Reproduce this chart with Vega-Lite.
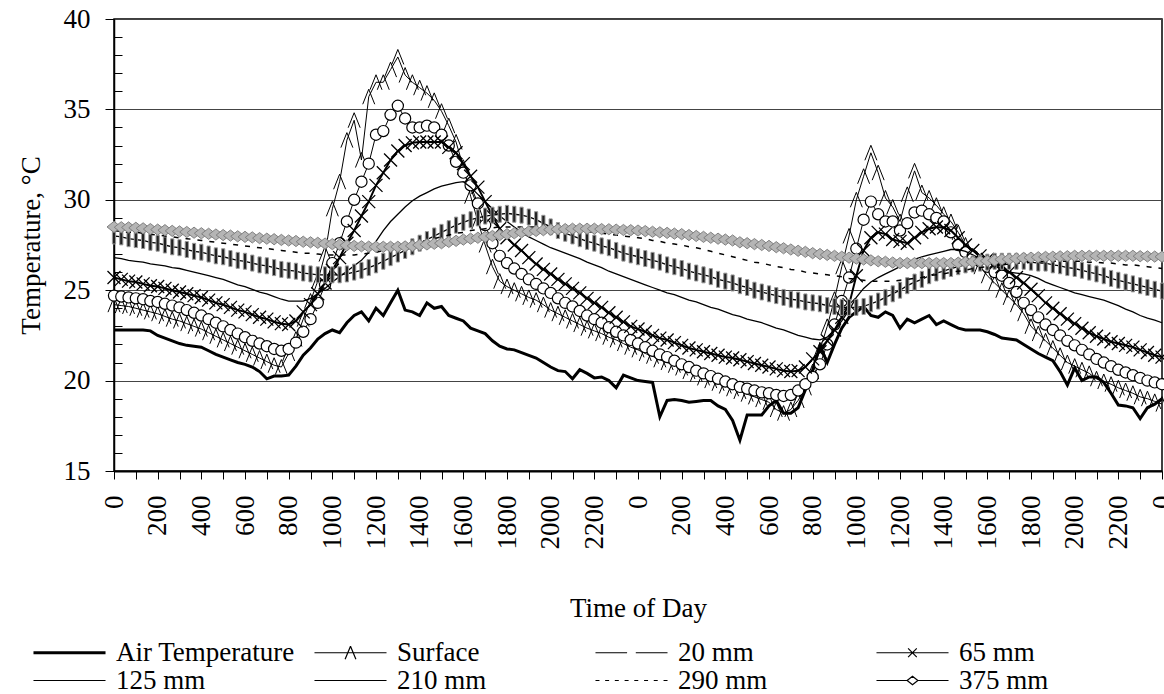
{
"$schema": "https://vega.github.io/schema/vega-lite/v6.json",
"width": 1048, "height": 452,
"autosize": {"type": "none"},
"padding": {"left": 114, "top": 19, "right": 2, "bottom": 223},
"background": "white",
"config": {
  "font": "Liberation Serif",
  "view": {"stroke": "black", "strokeWidth": 1.5},
  "axis": {"labelFont": "Liberation Serif", "titleFont": "Liberation Serif", "labelColor": "black", "titleColor": "black", "labelFontSize": 27, "titleFontSize": 27, "titleFontWeight": "normal", "tickColor": "black", "domainColor": "black"}
},
"data": {"values": [
{"m":0,"air":22.8,"surf":24.2,"d20":24.7,"d65":25.7,"d125":26.8,"d210":28.0,"d290":28.3,"d375":28.5},
{"m":20,"air":22.8,"surf":24.15,"d20":24.65,"d65":25.6,"d125":26.75,"d210":27.95,"d290":28.25,"d375":28.48},
{"m":40,"air":22.8,"surf":24.1,"d20":24.6,"d65":25.5,"d125":26.65,"d210":27.85,"d290":28.2,"d375":28.47},
{"m":60,"air":22.8,"surf":24.0,"d20":24.55,"d65":25.45,"d125":26.6,"d210":27.8,"d290":28.2,"d375":28.45},
{"m":80,"air":22.8,"surf":23.9,"d20":24.5,"d65":25.35,"d125":26.55,"d210":27.75,"d290":28.15,"d375":28.42},
{"m":100,"air":22.75,"surf":23.8,"d20":24.4,"d65":25.25,"d125":26.45,"d210":27.65,"d290":28.1,"d375":28.38},
{"m":120,"air":22.5,"surf":23.7,"d20":24.35,"d65":25.2,"d125":26.4,"d210":27.6,"d290":28.05,"d375":28.35},
{"m":140,"air":22.35,"surf":23.55,"d20":24.25,"d65":25.1,"d125":26.35,"d210":27.5,"d290":28.0,"d375":28.32},
{"m":160,"air":22.2,"surf":23.4,"d20":24.15,"d65":25.0,"d125":26.25,"d210":27.4,"d290":27.95,"d375":28.28},
{"m":180,"air":22.05,"surf":23.3,"d20":24.05,"d65":24.9,"d125":26.2,"d210":27.35,"d290":27.9,"d375":28.25},
{"m":200,"air":21.95,"surf":23.15,"d20":23.9,"d65":24.8,"d125":26.1,"d210":27.25,"d290":27.85,"d375":28.22},
{"m":220,"air":21.9,"surf":23.0,"d20":23.75,"d65":24.7,"d125":26.0,"d210":27.15,"d290":27.8,"d375":28.18},
{"m":240,"air":21.85,"surf":22.85,"d20":23.6,"d65":24.6,"d125":25.9,"d210":27.1,"d290":27.75,"d375":28.15},
{"m":260,"air":21.65,"surf":22.65,"d20":23.4,"d65":24.45,"d125":25.8,"d210":27.0,"d290":27.7,"d375":28.12},
{"m":280,"air":21.45,"surf":22.45,"d20":23.2,"d65":24.3,"d125":25.7,"d210":26.9,"d290":27.65,"d375":28.08},
{"m":300,"air":21.3,"surf":22.25,"d20":23.0,"d65":24.2,"d125":25.6,"d210":26.85,"d290":27.6,"d375":28.05},
{"m":320,"air":21.15,"surf":22.05,"d20":22.8,"d65":24.05,"d125":25.45,"d210":26.75,"d290":27.55,"d375":28.02},
{"m":340,"air":21.0,"surf":21.85,"d20":22.6,"d65":23.9,"d125":25.3,"d210":26.65,"d290":27.5,"d375":27.98},
{"m":360,"air":20.9,"surf":21.65,"d20":22.4,"d65":23.8,"d125":25.2,"d210":26.6,"d290":27.45,"d375":27.95},
{"m":380,"air":20.75,"surf":21.45,"d20":22.2,"d65":23.65,"d125":25.05,"d210":26.5,"d290":27.4,"d375":27.92},
{"m":400,"air":20.5,"surf":21.25,"d20":22.05,"d65":23.5,"d125":24.9,"d210":26.4,"d290":27.35,"d375":27.88},
{"m":420,"air":20.1,"surf":21.05,"d20":21.9,"d65":23.4,"d125":24.8,"d210":26.35,"d290":27.3,"d375":27.85},
{"m":440,"air":20.25,"surf":20.85,"d20":21.75,"d65":23.25,"d125":24.65,"d210":26.25,"d290":27.25,"d375":27.82},
{"m":460,"air":20.25,"surf":20.75,"d20":21.65,"d65":23.15,"d125":24.5,"d210":26.15,"d290":27.2,"d375":27.78},
{"m":480,"air":20.3,"surf":21.5,"d20":21.75,"d65":23.1,"d125":24.4,"d210":26.1,"d290":27.15,"d375":27.75},
{"m":500,"air":20.8,"surf":22.3,"d20":22.1,"d65":23.3,"d125":24.4,"d210":26.05,"d290":27.1,"d375":27.72},
{"m":520,"air":21.4,"surf":23.4,"d20":22.7,"d65":23.8,"d125":24.4,"d210":25.95,"d290":27.05,"d375":27.68},
{"m":540,"air":21.8,"surf":24.4,"d20":23.4,"d65":24.2,"d125":24.55,"d210":25.9,"d290":27.05,"d375":27.65},
{"m":560,"air":22.3,"surf":25.5,"d20":24.3,"d65":24.8,"d125":24.8,"d210":25.85,"d290":27.0,"d375":27.62},
{"m":580,"air":22.6,"surf":27.0,"d20":25.3,"d65":25.4,"d125":25.1,"d210":25.85,"d290":26.95,"d375":27.58},
{"m":600,"air":22.8,"surf":29.5,"d20":26.5,"d65":26.1,"d125":25.45,"d210":25.85,"d290":26.95,"d375":27.55},
{"m":620,"air":22.65,"surf":31.0,"d20":27.6,"d65":26.8,"d125":25.75,"d210":25.85,"d290":26.95,"d375":27.52},
{"m":640,"air":23.2,"surf":33.3,"d20":28.8,"d65":27.6,"d125":26.05,"d210":25.9,"d290":26.95,"d375":27.48},
{"m":660,"air":23.6,"surf":34.4,"d20":30.0,"d65":28.3,"d125":26.35,"d210":26.0,"d290":26.95,"d375":27.45},
{"m":680,"air":23.8,"surf":32.2,"d20":31.0,"d65":29.1,"d125":26.65,"d210":26.1,"d290":27.0,"d375":27.43},
{"m":700,"air":23.3,"surf":35.7,"d20":32.0,"d65":29.9,"d125":27.1,"d210":26.25,"d290":27.05,"d375":27.41},
{"m":720,"air":24.0,"surf":36.5,"d20":33.6,"d65":30.8,"d125":27.7,"d210":26.4,"d290":27.1,"d375":27.4},
{"m":740,"air":23.6,"surf":36.5,"d20":33.8,"d65":31.5,"d125":28.3,"d210":26.6,"d290":27.2,"d375":27.4},
{"m":760,"air":24.3,"surf":37.2,"d20":34.7,"d65":32.2,"d125":28.8,"d210":26.8,"d290":27.25,"d375":27.4},
{"m":780,"air":25.0,"surf":37.9,"d20":35.2,"d65":32.7,"d125":29.2,"d210":27.0,"d290":27.35,"d375":27.4},
{"m":800,"air":23.9,"surf":36.9,"d20":34.5,"d65":33.0,"d125":29.6,"d210":27.2,"d290":27.45,"d375":27.42},
{"m":820,"air":23.8,"surf":36.5,"d20":34.0,"d65":33.15,"d125":29.95,"d210":27.4,"d290":27.55,"d375":27.45},
{"m":840,"air":23.6,"surf":36.2,"d20":34.0,"d65":33.2,"d125":30.2,"d210":27.6,"d290":27.65,"d375":27.5},
{"m":860,"air":24.3,"surf":35.9,"d20":34.1,"d65":33.2,"d125":30.4,"d210":27.8,"d290":27.75,"d375":27.53},
{"m":880,"air":24.0,"surf":35.5,"d20":34.0,"d65":33.2,"d125":30.6,"d210":28.0,"d290":27.85,"d375":27.57},
{"m":900,"air":24.1,"surf":34.9,"d20":33.6,"d65":33.2,"d125":30.75,"d210":28.2,"d290":27.95,"d375":27.6},
{"m":920,"air":23.6,"surf":34.1,"d20":33.0,"d65":32.9,"d125":30.85,"d210":28.4,"d290":28.05,"d375":27.67},
{"m":940,"air":23.45,"surf":33.2,"d20":32.1,"d65":32.6,"d125":30.95,"d210":28.6,"d290":28.15,"d375":27.73},
{"m":960,"air":23.3,"surf":31.8,"d20":31.5,"d65":32.0,"d125":31.0,"d210":28.75,"d290":28.2,"d375":27.8},
{"m":980,"air":22.9,"surf":30.2,"d20":30.8,"d65":31.3,"d125":30.7,"d210":28.9,"d290":28.3,"d375":27.85},
{"m":1000,"air":22.75,"surf":28.8,"d20":29.8,"d65":30.7,"d125":30.3,"d210":29.0,"d290":28.35,"d375":27.9},
{"m":1020,"air":22.6,"surf":27.5,"d20":28.6,"d65":29.9,"d125":29.9,"d210":29.1,"d290":28.4,"d375":27.95},
{"m":1040,"air":22.2,"surf":26.3,"d20":27.6,"d65":29.1,"d125":29.5,"d210":29.15,"d290":28.45,"d375":28.0},
{"m":1060,"air":21.9,"surf":25.5,"d20":26.9,"d65":28.4,"d125":29.1,"d210":29.2,"d290":28.5,"d375":28.05},
{"m":1080,"air":21.75,"surf":25.2,"d20":26.5,"d65":27.9,"d125":28.8,"d210":29.25,"d290":28.5,"d375":28.1},
{"m":1100,"air":21.7,"surf":25.0,"d20":26.2,"d65":27.5,"d125":28.5,"d210":29.2,"d290":28.5,"d375":28.15},
{"m":1120,"air":21.55,"surf":24.8,"d20":25.9,"d65":27.2,"d125":28.2,"d210":29.15,"d290":28.5,"d375":28.2},
{"m":1140,"air":21.4,"surf":24.6,"d20":25.6,"d65":26.8,"d125":27.95,"d210":29.05,"d290":28.5,"d375":28.25},
{"m":1160,"air":21.25,"surf":24.45,"d20":25.35,"d65":26.45,"d125":27.75,"d210":28.9,"d290":28.5,"d375":28.28},
{"m":1180,"air":21.0,"surf":24.2,"d20":25.1,"d65":26.15,"d125":27.55,"d210":28.7,"d290":28.45,"d375":28.32},
{"m":1200,"air":20.75,"surf":23.9,"d20":24.85,"d65":25.9,"d125":27.35,"d210":28.5,"d290":28.45,"d375":28.35},
{"m":1220,"air":20.55,"surf":23.7,"d20":24.55,"d65":25.6,"d125":27.2,"d210":28.3,"d290":28.4,"d375":28.37},
{"m":1240,"air":20.5,"surf":23.5,"d20":24.3,"d65":25.35,"d125":27.05,"d210":28.15,"d290":28.4,"d375":28.38},
{"m":1260,"air":20.1,"surf":23.3,"d20":24.1,"d65":25.1,"d125":26.9,"d210":28.0,"d290":28.35,"d375":28.4},
{"m":1280,"air":20.6,"surf":23.1,"d20":23.85,"d65":24.85,"d125":26.75,"d210":27.85,"d290":28.3,"d375":28.4},
{"m":1300,"air":20.4,"surf":22.9,"d20":23.6,"d65":24.55,"d125":26.55,"d210":27.7,"d290":28.25,"d375":28.4},
{"m":1320,"air":20.15,"surf":22.75,"d20":23.4,"d65":24.3,"d125":26.4,"d210":27.6,"d290":28.2,"d375":28.4},
{"m":1340,"air":20.2,"surf":22.6,"d20":23.2,"d65":24.05,"d125":26.25,"d210":27.45,"d290":28.15,"d375":28.38},
{"m":1360,"air":20.0,"surf":22.4,"d20":22.95,"d65":23.75,"d125":26.05,"d210":27.35,"d290":28.1,"d375":28.37},
{"m":1380,"air":19.6,"surf":22.25,"d20":22.7,"d65":23.5,"d125":25.9,"d210":27.2,"d290":28.05,"d375":28.35},
{"m":1400,"air":20.3,"surf":22.05,"d20":22.5,"d65":23.25,"d125":25.75,"d210":27.05,"d290":28.0,"d375":28.33},
{"m":1420,"air":20.15,"surf":21.85,"d20":22.25,"d65":23.0,"d125":25.6,"d210":26.95,"d290":27.95,"d375":28.32},
{"m":1440,"air":20.0,"surf":21.7,"d20":22.05,"d65":22.85,"d125":25.45,"d210":26.85,"d290":27.9,"d375":28.3},
{"m":1460,"air":19.95,"surf":21.5,"d20":21.85,"d65":22.7,"d125":25.3,"d210":26.75,"d290":27.85,"d375":28.27},
{"m":1480,"air":19.9,"surf":21.35,"d20":21.65,"d65":22.5,"d125":25.15,"d210":26.65,"d290":27.75,"d375":28.23},
{"m":1500,"air":18.0,"surf":21.15,"d20":21.45,"d65":22.35,"d125":25.0,"d210":26.55,"d290":27.7,"d375":28.2},
{"m":1520,"air":18.9,"surf":21.0,"d20":21.3,"d65":22.25,"d125":24.85,"d210":26.4,"d290":27.6,"d375":28.17},
{"m":1540,"air":18.95,"surf":20.85,"d20":21.1,"d65":22.1,"d125":24.75,"d210":26.3,"d290":27.55,"d375":28.13},
{"m":1560,"air":18.9,"surf":20.7,"d20":20.9,"d65":21.95,"d125":24.6,"d210":26.2,"d290":27.5,"d375":28.1},
{"m":1580,"air":18.8,"surf":20.5,"d20":20.75,"d65":21.8,"d125":24.45,"d210":26.05,"d290":27.4,"d375":28.05},
{"m":1600,"air":18.85,"surf":20.35,"d20":20.55,"d65":21.7,"d125":24.35,"d210":25.95,"d290":27.35,"d375":28.0},
{"m":1620,"air":18.9,"surf":20.15,"d20":20.4,"d65":21.6,"d125":24.2,"d210":25.85,"d290":27.25,"d375":27.95},
{"m":1640,"air":18.9,"surf":20.0,"d20":20.25,"d65":21.5,"d125":24.05,"d210":25.75,"d290":27.15,"d375":27.9},
{"m":1660,"air":18.6,"surf":19.85,"d20":20.1,"d65":21.4,"d125":23.95,"d210":25.6,"d290":27.05,"d375":27.85},
{"m":1680,"air":18.4,"surf":19.7,"d20":19.95,"d65":21.3,"d125":23.8,"d210":25.5,"d290":26.95,"d375":27.8},
{"m":1700,"air":17.8,"surf":19.55,"d20":19.8,"d65":21.25,"d125":23.65,"d210":25.4,"d290":26.85,"d375":27.75},
{"m":1720,"air":16.7,"surf":19.4,"d20":19.65,"d65":21.15,"d125":23.55,"d210":25.25,"d290":26.75,"d375":27.65},
{"m":1740,"air":18.1,"surf":19.25,"d20":19.55,"d65":21.05,"d125":23.4,"d210":25.15,"d290":26.65,"d375":27.6},
{"m":1760,"air":18.1,"surf":19.1,"d20":19.45,"d65":20.95,"d125":23.3,"d210":25.0,"d290":26.55,"d375":27.55},
{"m":1780,"air":18.1,"surf":18.95,"d20":19.35,"d65":20.85,"d125":23.2,"d210":24.9,"d290":26.5,"d375":27.5},
{"m":1800,"air":18.6,"surf":18.8,"d20":19.3,"d65":20.75,"d125":23.05,"d210":24.8,"d290":26.4,"d375":27.45},
{"m":1820,"air":18.9,"surf":18.4,"d20":19.2,"d65":20.65,"d125":22.9,"d210":24.7,"d290":26.3,"d375":27.38},
{"m":1840,"air":18.2,"surf":18.2,"d20":19.15,"d65":20.55,"d125":22.8,"d210":24.6,"d290":26.25,"d375":27.32},
{"m":1860,"air":18.2,"surf":18.4,"d20":19.2,"d65":20.5,"d125":22.65,"d210":24.5,"d290":26.15,"d375":27.25},
{"m":1880,"air":18.5,"surf":18.9,"d20":19.45,"d65":20.55,"d125":22.5,"d210":24.45,"d290":26.1,"d375":27.18},
{"m":1900,"air":19.5,"surf":19.6,"d20":19.8,"d65":20.75,"d125":22.4,"d210":24.35,"d290":26.0,"d375":27.12},
{"m":1920,"air":20.6,"surf":20.5,"d20":20.2,"d65":21.2,"d125":22.3,"d210":24.3,"d290":25.95,"d375":27.05},
{"m":1940,"air":21.9,"surf":21.7,"d20":20.9,"d65":21.6,"d125":22.25,"d210":24.25,"d290":25.9,"d375":27.0},
{"m":1960,"air":21.0,"surf":23.0,"d20":22.0,"d65":22.2,"d125":22.4,"d210":24.15,"d290":25.85,"d375":26.95},
{"m":1980,"air":22.0,"surf":24.5,"d20":23.1,"d65":22.8,"d125":22.8,"d210":24.1,"d290":25.8,"d375":26.9},
{"m":2000,"air":22.9,"surf":26.3,"d20":24.4,"d65":23.5,"d125":23.3,"d210":24.05,"d290":25.75,"d375":26.85},
{"m":2020,"air":23.5,"surf":28.0,"d20":25.7,"d65":24.2,"d125":23.9,"d210":24.05,"d290":25.65,"d375":26.8},
{"m":2040,"air":23.8,"surf":30.0,"d20":27.3,"d65":25.8,"d125":24.6,"d210":24.05,"d290":25.6,"d375":26.75},
{"m":2060,"air":24.1,"surf":31.3,"d20":28.9,"d65":27.2,"d125":25.1,"d210":24.1,"d290":25.55,"d375":26.7},
{"m":2080,"air":23.6,"surf":32.6,"d20":29.9,"d65":27.9,"d125":25.45,"d210":24.25,"d290":25.5,"d375":26.65},
{"m":2100,"air":23.5,"surf":31.5,"d20":29.2,"d65":28.2,"d125":25.7,"d210":24.4,"d290":25.5,"d375":26.6},
{"m":2120,"air":23.8,"surf":30.1,"d20":28.8,"d65":28.1,"d125":25.9,"d210":24.6,"d290":25.5,"d375":26.57},
{"m":2140,"air":23.6,"surf":29.6,"d20":28.8,"d65":27.8,"d125":26.1,"d210":24.8,"d290":25.5,"d375":26.53},
{"m":2160,"air":22.9,"surf":28.8,"d20":28.3,"d65":27.7,"d125":26.3,"d210":25.0,"d290":25.55,"d375":26.5},
{"m":2180,"air":23.4,"surf":30.3,"d20":28.7,"d65":27.6,"d125":26.5,"d210":25.25,"d290":25.6,"d375":26.5},
{"m":2200,"air":23.2,"surf":31.6,"d20":29.3,"d65":27.9,"d125":26.7,"d210":25.45,"d290":25.65,"d375":26.5},
{"m":2220,"air":23.4,"surf":30.4,"d20":29.4,"d65":28.2,"d125":26.85,"d210":25.6,"d290":25.7,"d375":26.5},
{"m":2240,"air":23.6,"surf":30.1,"d20":29.2,"d65":28.4,"d125":26.95,"d210":25.8,"d290":25.8,"d375":26.5},
{"m":2260,"air":23.1,"surf":29.7,"d20":29.0,"d65":28.5,"d125":27.05,"d210":25.95,"d290":25.85,"d375":26.5},
{"m":2280,"air":23.3,"surf":29.2,"d20":28.8,"d65":28.45,"d125":27.15,"d210":26.05,"d290":25.9,"d375":26.5},
{"m":2300,"air":23.1,"surf":28.8,"d20":28.2,"d65":28.3,"d125":27.25,"d210":26.2,"d290":26.0,"d375":26.5},
{"m":2320,"air":22.9,"surf":28.2,"d20":27.5,"d65":27.9,"d125":27.25,"d210":26.3,"d290":26.05,"d375":26.52},
{"m":2340,"air":22.8,"surf":27.5,"d20":27.1,"d65":27.5,"d125":27.15,"d210":26.4,"d290":26.1,"d375":26.55},
{"m":2360,"air":22.8,"surf":26.9,"d20":26.9,"d65":27.2,"d125":26.95,"d210":26.45,"d290":26.2,"d375":26.57},
{"m":2380,"air":22.8,"surf":26.3,"d20":26.6,"d65":26.9,"d125":26.75,"d210":26.5,"d290":26.25,"d375":26.6},
{"m":2400,"air":22.7,"surf":25.8,"d20":26.3,"d65":26.7,"d125":26.55,"d210":26.55,"d290":26.3,"d375":26.62},
{"m":2420,"air":22.55,"surf":25.4,"d20":26.0,"d65":26.5,"d125":26.35,"d210":26.6,"d290":26.35,"d375":26.65},
{"m":2440,"air":22.35,"surf":25.0,"d20":25.8,"d65":26.3,"d125":26.15,"d210":26.6,"d290":26.4,"d375":26.7},
{"m":2460,"air":22.3,"surf":24.6,"d20":25.4,"d65":26.0,"d125":26.0,"d210":26.6,"d290":26.45,"d375":26.72},
{"m":2480,"air":22.25,"surf":24.2,"d20":24.9,"d65":25.7,"d125":25.95,"d210":26.6,"d290":26.5,"d375":26.75},
{"m":2500,"air":22.0,"surf":23.7,"d20":24.3,"d65":25.4,"d125":25.9,"d210":26.6,"d290":26.5,"d375":26.78},
{"m":2520,"air":21.75,"surf":23.0,"d20":23.9,"d65":25.05,"d125":25.8,"d210":26.55,"d290":26.55,"d375":26.8},
{"m":2540,"air":21.5,"surf":22.6,"d20":23.5,"d65":24.7,"d125":25.65,"d210":26.5,"d290":26.55,"d375":26.82},
{"m":2560,"air":21.3,"surf":22.2,"d20":23.1,"d65":24.3,"d125":25.45,"d210":26.5,"d290":26.6,"d375":26.84},
{"m":2580,"air":21.1,"surf":21.8,"d20":22.8,"d65":24.0,"d125":25.3,"d210":26.4,"d290":26.6,"d375":26.85},
{"m":2600,"air":20.5,"surf":21.4,"d20":22.5,"d65":23.7,"d125":25.15,"d210":26.35,"d290":26.6,"d375":26.87},
{"m":2620,"air":19.75,"surf":21.0,"d20":22.2,"d65":23.4,"d125":25.0,"d210":26.25,"d290":26.6,"d375":26.88},
{"m":2640,"air":20.7,"surf":20.8,"d20":21.95,"d65":23.15,"d125":24.85,"d210":26.2,"d290":26.6,"d375":26.9},
{"m":2660,"air":20.0,"surf":20.6,"d20":21.7,"d65":22.9,"d125":24.75,"d210":26.1,"d290":26.6,"d375":26.9},
{"m":2680,"air":20.2,"surf":20.4,"d20":21.45,"d65":22.65,"d125":24.65,"d210":26.0,"d290":26.55,"d375":26.9},
{"m":2700,"air":20.2,"surf":20.1,"d20":21.2,"d65":22.45,"d125":24.55,"d210":25.9,"d290":26.55,"d375":26.9},
{"m":2720,"air":19.9,"surf":19.95,"d20":21.0,"d65":22.3,"d125":24.45,"d210":25.8,"d290":26.5,"d375":26.9},
{"m":2740,"air":19.3,"surf":19.8,"d20":20.8,"d65":22.15,"d125":24.3,"d210":25.65,"d290":26.5,"d375":26.9},
{"m":2760,"air":18.65,"surf":19.6,"d20":20.6,"d65":22.05,"d125":24.15,"d210":25.55,"d290":26.45,"d375":26.9},
{"m":2780,"air":18.6,"surf":19.45,"d20":20.45,"d65":21.95,"d125":23.95,"d210":25.45,"d290":26.4,"d375":26.9},
{"m":2800,"air":18.5,"surf":19.3,"d20":20.3,"d65":21.85,"d125":23.8,"d210":25.35,"d290":26.4,"d375":26.9},
{"m":2820,"air":17.9,"surf":19.1,"d20":20.15,"d65":21.7,"d125":23.6,"d210":25.25,"d290":26.35,"d375":26.88},
{"m":2840,"air":18.5,"surf":19.0,"d20":20.0,"d65":21.55,"d125":23.45,"d210":25.15,"d290":26.3,"d375":26.87},
{"m":2860,"air":18.7,"surf":18.85,"d20":19.9,"d65":21.4,"d125":23.35,"d210":25.05,"d290":26.25,"d375":26.86},
{"m":2880,"air":19.0,"surf":18.7,"d20":19.8,"d65":21.3,"d125":23.2,"d210":24.95,"d290":26.2,"d375":26.85}
]},
"transform": [{"fold": ["air","surf","d20","d65","d125","d210","d290","d375"], "as": ["series","v"]}],
"encoding": {
  "x": {"field": "m", "type": "quantitative", "scale": {"domain": [0, 2880], "nice": false, "zero": false},
    "axis": {"values": [0,60,120,180,240,300,360,420,480,540,600,660,720,780,840,900,960,1020,1080,1140,1200,1260,1320,1380,1440,1500,1560,1620,1680,1740,1800,1860,1920,1980,2040,2100,2160,2220,2280,2340,2400,2460,2520,2580,2640,2700,2760,2820,2880],
      "labelExpr": "datum.value % 120 == 0 ? format((datum.value / 60) % 24 * 100, 'd') : ''",
      "labelAngle": 270, "labelPadding": 16, "tickSize": 8, "tickWidth": 1, "domainWidth": 2,
      "labelOverlap": false, "labelFlush": false, "labelBound": false, "grid": false,
      "title": "Time of Day", "titlePadding": 46}}
},
"layer": [
  {
    "encoding": {"y": {"field": "v", "type": "quantitative", "scale": {"domain": [15, 40], "nice": false, "zero": false},
      "axis": {"values": [15,20,25,30,35,40], "tickSize": 9, "labelPadding": 15, "grid": true, "gridColor": "#444444", "gridWidth": 1, "domainWidth": 1.5, "labelFlush": false, "labelOverlap": false, "title": "Temperature, °C", "titlePadding": 18}}},
    "layer": [
      {"transform": [{"filter": "datum.series == 'air'"}], "mark": {"type": "line", "color": "black", "strokeWidth": 3}},
      {"transform": [{"filter": "datum.series == 'surf'"}], "mark": {"type": "line", "color": "black", "strokeWidth": 1}},
      {"transform": [{"filter": "datum.series == 'surf'"}], "mark": {"type": "point", "shape": "M-0.8,1L0,-1L0.8,1", "filled": false, "stroke": "black", "strokeWidth": 1, "size": 225, "opacity": 1}},
      {"transform": [{"filter": "datum.series == 'd20'"}], "mark": {"type": "line", "color": "black", "strokeWidth": 1}},
      {"transform": [{"filter": "datum.series == 'd20'"}], "mark": {"type": "point", "shape": "circle", "filled": true, "fill": "white", "stroke": "black", "strokeWidth": 1.2, "size": 125, "opacity": 1}},
      {"transform": [{"filter": "datum.series == 'd65'"}], "mark": {"type": "line", "color": "black", "strokeWidth": 2}},
      {"transform": [{"filter": "datum.series == 'd65'"}], "mark": {"type": "point", "shape": "M-1,-1L1,1M-1,1L1,-1", "filled": false, "stroke": "black", "strokeWidth": 1.3, "size": 169, "opacity": 1}},
      {"transform": [{"filter": "datum.series == 'd125'"}], "mark": {"type": "line", "color": "black", "strokeWidth": 1.3}},
      {"transform": [{"filter": "datum.series == 'd210'"}], "mark": {"type": "line", "color": "black", "strokeWidth": 1.3}},
      {"transform": [{"filter": "datum.series == 'd210'"}], "mark": {"type": "point", "shape": "M-0.2,-1H0.2V1H-0.2Z", "filled": true, "fill": "#222222", "stroke": "#999999", "strokeWidth": 1, "size": 256, "opacity": 1}},
      {"transform": [{"filter": "datum.series == 'd290'"}], "mark": {"type": "line", "color": "black", "strokeWidth": 1.5, "strokeDash": [5, 7]}},
      {"transform": [{"filter": "datum.series == 'd375'"}], "mark": {"type": "line", "color": "#666666", "strokeWidth": 1}},
      {"transform": [{"filter": "datum.series == 'd375'"}], "mark": {"type": "point", "shape": "M-1,0L0,-0.8L1,0L0,0.8Z", "filled": true, "fill": "#b5b5b5", "stroke": "#808080", "strokeWidth": 1, "size": 196, "opacity": 1}}
    ]
  },
  {
    "mark": {"type": "point", "opacity": 0},
    "encoding": {
      "y": {"field": "v", "type": "quantitative", "axis": {"orient": "left", "values": [16,17,18,19,21,22,23,24,26,27,28,29,31,32,33,34,36,37,38,39], "tickSize": -8, "labels": false, "domain": false, "grid": false, "title": null}},
      "shape": {"field": "series", "type": "nominal",
        "scale": {"domain": ["air","surf","d20","d65","d125","d210","d290","d375"],
          "range": [
            "M-1.05,-0.08H4.76M-1.05,0H4.76M-1.05,0.08H4.76",
            "M-1.05,0H4.76M1.42,0.52L1.855,-0.52M1.855,-0.52L2.29,0.52",
            "M-1.05,0H1.5M2.2,0H4.76",
            "M-1.05,0H4.76M1.5,-0.35L2.2,0.35M1.5,0.35L2.2,-0.35",
            "M-1.05,0H4.76",
            "M-1.05,0H4.76",
            "M-1.05,0H-0.73M-0.27,0H0.05M0.51,0H0.83M1.3,0H1.62M2.08,0H2.4M2.87,0H3.19M3.65,0H3.97M4.44,0H4.76",
            "M-1.05,0H1.42M2.29,0H4.76M1.42,0L1.855,-0.35L2.29,0L1.855,0.35Z"]},
        "legend": {
          "orient": "none", "legendX": -81, "legendY": 620, "direction": "horizontal", "columns": 4, "gridAlign": "all",
          "title": null, "padding": 0, "symbolSize": 615, "symbolOpacity": 1, "symbolStrokeWidth": 1.2, "symbolStrokeColor": "black", "symbolFillColor": "#b5b5b5",
          "labelFont": "Liberation Serif", "labelFontSize": 27, "labelColor": "black", "labelLimit": 500, "labelOffset": 56,
          "columnPadding": 17, "rowPadding": 0,
          "labelExpr": "datum.value == 'air' ? 'Air Temperature' : datum.value == 'surf' ? 'Surface' : datum.value == 'd20' ? '20 mm' : datum.value == 'd65' ? '65 mm' : datum.value == 'd125' ? '125 mm' : datum.value == 'd210' ? '210 mm' : datum.value == 'd290' ? '290 mm' : '375 mm'"
        }}
    }
  }
],
"resolve": {"axis": {"y": "independent"}}
}
